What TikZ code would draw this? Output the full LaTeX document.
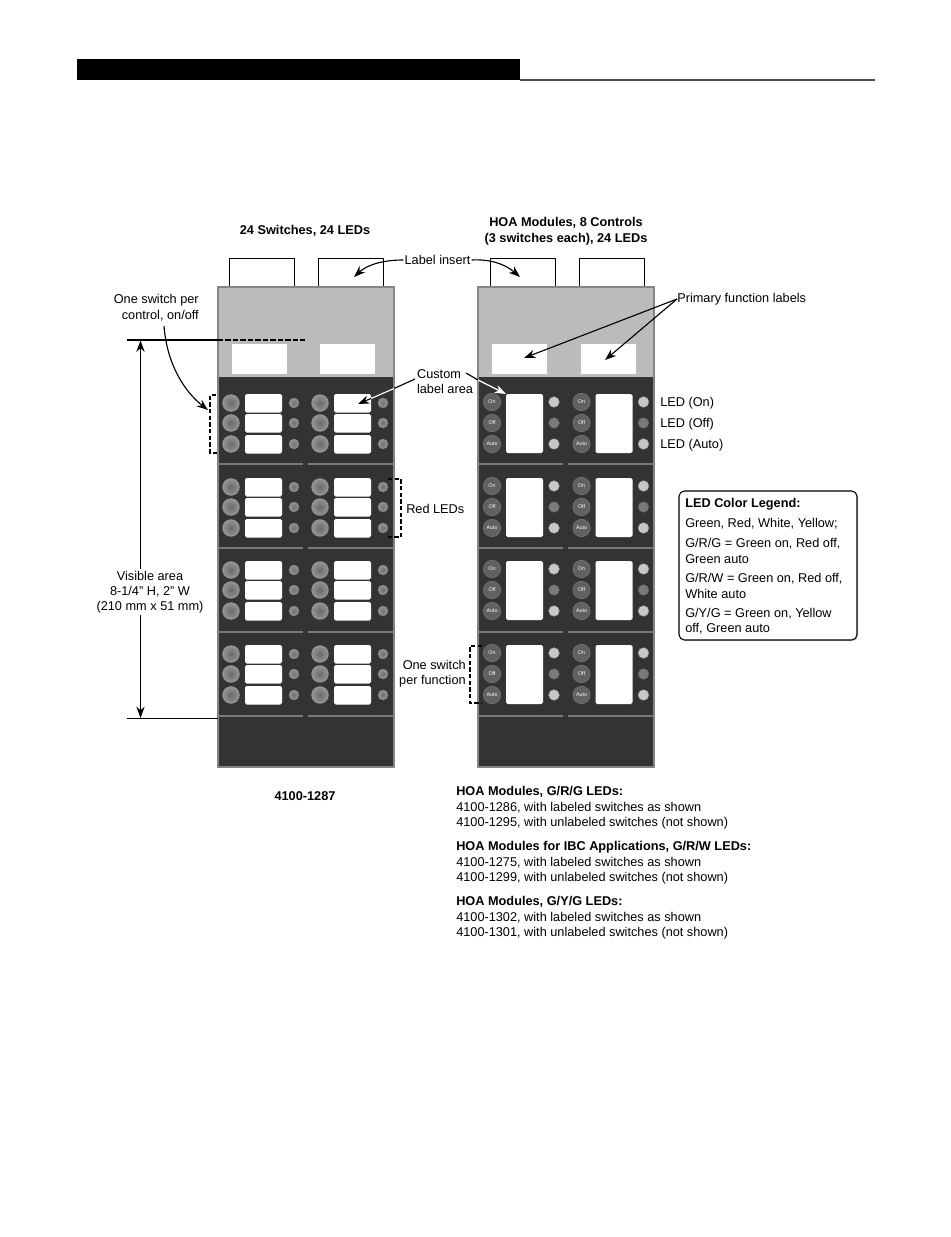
\documentclass[tikz,border=0pt]{standalone}
\usepackage{fontspec}
\setmainfont{Liberation Sans}
\usetikzlibrary{arrows.meta,shadows}
\definecolor{panelgray}{HTML}{BBBBBB}
\definecolor{paneldark}{HTML}{333333}
\definecolor{panelrim}{HTML}{858585}
\tikzset{
  px/.style={x=0.75pt,y=-0.75pt},
  txt/.style={font=\fontsize{9.55}{11.4}\selectfont,inner sep=0pt,text=black,yshift=-0.75pt},
  bold/.style={txt,font=\fontsize{9.55}{11.8}\selectfont\bfseries},
  insertbox/.style={draw=black,line width=0.6pt,fill=white},
  bigsw/.style={circle,minimum size=12.4pt,inner sep=0pt,draw=black!42,line width=0.7pt,inner color=black!58,outer color=black!42},
  hoasw/.style={circle,minimum size=13pt,inner sep=0pt,draw=black!55,line width=0.5pt,fill=black!62,text=white,font=\fontsize{4}{4}\selectfont},
  ledn/.style={circle,minimum size=7.5pt,inner sep=0pt,inner color=black!55,outer color=black!42,draw=black!50,line width=0.3pt},
  ledon/.style={circle,minimum size=8pt,inner sep=0pt,fill=black!22,draw=black!40,line width=0.3pt},
  ledoff/.style={circle,minimum size=8pt,inner sep=0pt,fill=black!52,draw=black!62,line width=0.3pt},
  sepline/.style={draw=black!52,line width=1.1pt},
  brk/.style={draw=black,line width=1pt,dash pattern=on 3.2pt off 1.8pt},
  arr/.style={-{Stealth[length=8.5pt,width=6.2pt]},line width=0.85pt,black},
  warr/.style={-{Stealth[length=8.5pt,width=6.2pt]},line width=0.85pt,white},
  blk/.style={line width=0.85pt,black},
  dim/.style={{Stealth[length=8.5pt,width=6.2pt]}-{Stealth[length=8.5pt,width=6.2pt]},line width=0.85pt,black},
}
\begin{document}
\begin{tikzpicture}[px]
\useasboundingbox (0,0) rectangle (950,1237);
\fill[white] (0,0) rectangle (950,1237);
% header
\fill[black] (77,59) rectangle (520,80);
\coordinate (hL) at (520,80); \coordinate (hR) at (875,80);
\draw[black!70,line width=1.5pt] (hL) -- (hR);
% titles
\node[bold] (t1) at (305,230) {24 Switches, 24 LEDs};
\node[bold,align=center] (t2) at (566,230) {HOA Modules, 8 Controls\\(3 switches each), 24 LEDs};
% panel bodies
\foreach \ox/\ia/\ib/\la/\lb in {218/229/318/232/320,478/490/579/492/581}{
  \draw[insertbox] (\ia,287) -- (\ia,258) -- (\ia+65,258) -- (\ia+65,287);
  \draw[insertbox] (\ib,287) -- (\ib,258) -- (\ib+65,258) -- (\ib+65,287);
  \fill[panelgray] (\ox,287) rectangle (\ox+176,377);
  \fill[paneldark] (\ox,377) rectangle (\ox+176,767);
  \draw[panelrim,line width=1.1pt] (\ox,287) rectangle (\ox+176,767);
  \fill[white] (\la,344) rectangle (\la+55,374);
  \fill[white] (\lb,344) rectangle (\lb+55,374);
  \foreach \sy in {464,548,632,716}{
    \draw[sepline] (\ox,\sy) -- (\ox+85,\sy);
    \draw[sepline] (\ox+90,\sy) -- (\ox+176,\sy);
  }
}
% left panel modules
\foreach \m/\dy in {1/0,2/84,3/167,4/251}{
  \foreach \c/\dx in {1/0,2/89}{
    \foreach \r/\ry/\by in {1/403/394,2/423/414,3/444/435}{
      \node[bigsw] (ls\m\c\r) at (231+\dx,\ry+\dy) {};
      \fill[white,rounded corners=1.2pt] (245+\dx,\by+\dy) rectangle (282+\dx,\by+\dy+18.5);
      \node[ledn] (ll\m\c\r) at (294+\dx,\ry+\dy) {};
    }
  }
}
% right panel modules
\foreach \m/\dy in {1/0,2/84,3/167,4/251}{
  \foreach \c/\dx in {1/0,2/89.5}{
    \node[hoasw] (on\m\c) at (492+\dx,402+\dy) {On};
    \node[hoasw] (of\m\c) at (492+\dx,423+\dy) {Off};
    \node[hoasw] (au\m\c) at (492+\dx,444+\dy) {Auto};
    \fill[white,rounded corners=1.2pt] (506+\dx,394+\dy) rectangle (543+\dx,453+\dy);
    \node[ledon] (le\m\c a) at (554+\dx,402+\dy) {};
    \node[ledoff] (le\m\c b) at (554+\dx,423+\dy) {};
    \node[ledon] (le\m\c c) at (554+\dx,444+\dy) {};
  }
}
% visible area dimension
\coordinate (vT) at (127,340); \coordinate (vP) at (218,340); \coordinate (vE) at (305,340);
\coordinate (vB) at (127,718); \coordinate (vQ) at (218,718);
\draw[black,line width=0.9pt] (vT) -- (vP);
\draw[black,line width=1pt,dash pattern=on 4pt off 1.6pt] (vP) -- (vE);
\draw[black,line width=0.7pt] (vB) -- (vQ);
\coordinate (dT) at (140.5,340.5); \coordinate (dB) at (140.5,718);
\draw[dim] (dT) -- (dB);
\node[txt,fill=white,align=center,inner sep=1.5pt] (vis) at (150,591) {Visible area\\8-1/4" H, 2" W\\(210 mm x 51 mm)};
% one switch per control
\node[txt,align=right,anchor=north east] (osc) at (199,293.5) {One switch per\\control, on/off};
\coordinate (oscS) at (164,326); \coordinate (oscE) at (208,410);
\draw[arr] (oscS) .. controls (167,365) and (185,392) .. (oscE);
\coordinate (b1a) at (216,395); \coordinate (b1b) at (210,395); \coordinate (b1c) at (210,453); \coordinate (b1d) at (218,453);
\draw[brk] (b1a) -- (b1b) -- (b1c) -- (b1d);
% label insert
\node[txt] (ins) at (437.5,259) {Label insert};
\coordinate (insL) at (354,277); \coordinate (insR) at (520,277);
\draw[arr] (ins.west) ++(-1,0) .. controls (385,260) and (368,264) .. (insL);
\draw[arr] (ins.east) ++(1,0) .. controls (490,259) and (505,264) .. (insR);
% primary function labels
\node[txt,anchor=west] (pri) at (677,298) {Primary function labels};
\coordinate (priA) at (524,358); \coordinate (priB) at (605,360);
\draw[arr] (pri.west) -- (priA);
\draw[arr] (pri.west) -- (priB);
% custom label area
\node[txt,align=center] (cus) at (445,381) {\hspace*{-9pt}Custom\\label area};
\coordinate (cusA) at (415,379); \coordinate (cusA2) at (394,388.5); \coordinate (cusA3) at (371,398.5); \coordinate (cusAE) at (358,404);
\coordinate (cusB) at (466,373); \coordinate (cusB2) at (478,380); \coordinate (cusBE) at (506,394);
\draw[blk] (cusA) -- (cusA2);
\draw[white,line width=0.85pt] (cusA2) -- (cusA3);
\draw[arr] (cusA3) -- (cusAE);
\draw[blk] (cusB) -- (cusB2);
\draw[warr] (cusB2) -- (cusBE);
% red LEDs
\coordinate (b2a) at (388,479); \coordinate (b2b) at (401,479); \coordinate (b2c) at (401,537); \coordinate (b2d) at (388,537);
\draw[brk] (b2a) -- (b2b) -- (b2c) -- (b2d);
\node[txt,anchor=west] (red) at (406,508) {Red LEDs};
% one switch per function
\node[txt,align=right,anchor=east] (osf) at (466,673) {One switch\\per function};
\coordinate (b3a) at (482,646); \coordinate (b3b) at (470,646); \coordinate (b3c) at (470,703); \coordinate (b3d) at (482,703);
\draw[brk] (b3a) -- (b3b) -- (b3c) -- (b3d);
% LED labels
\node[txt,anchor=west] (l1) at (660,402) {LED (On)};
\node[txt,anchor=west] (l2) at (660,423) {LED (Off)};
\node[txt,anchor=west] (l3) at (660,444) {LED (Auto)};
% legend
\draw[black,line width=0.8pt,fill=white,rounded corners=4pt,drop shadow={shadow xshift=0.8pt,shadow yshift=-0.8pt,fill=black!35}] (679,491) rectangle (857,640);
\node[bold,anchor=west] (lg0) at (685,503) {LED Color Legend:};
\foreach \n/\y/\s in {1/523/{Green, Red, White, Yellow;},2/543/{G/R/G = Green on, Red off,},3/558/{Green auto},4/578/{G/R/W = Green on, Red off,},5/593/{White auto},6/613/{G/Y/G = Green on, Yellow},7/628/{off, Green auto}}{
  \node[txt,anchor=west] (lg\n) at (685,\y) {\s};
}
% bottom text
\node[bold] (pn) at (305,795) {4100-1287};
\foreach \n/\y/\s in {a/791/{HOA Modules, G/R/G LEDs:},d/846/{HOA Modules for IBC Applications, G/R/W LEDs:},g/901/{HOA Modules, G/Y/G LEDs:}}{
  \node[bold,anchor=west] (h\n) at (456,\y) {\s};
}
\foreach \n/\y/\s in {b/807/{4100-1286, with labeled switches as shown},c/822/{4100-1295, with unlabeled switches (not shown)},e/862/{4100-1275, with labeled switches as shown},f/877/{4100-1299, with unlabeled switches (not shown)},h/917/{4100-1302, with labeled switches as shown},i/932/{4100-1301, with unlabeled switches (not shown)}}{
  \node[txt,anchor=west] (h\n) at (456,\y) {\s};
}
\end{tikzpicture}
\end{document}
